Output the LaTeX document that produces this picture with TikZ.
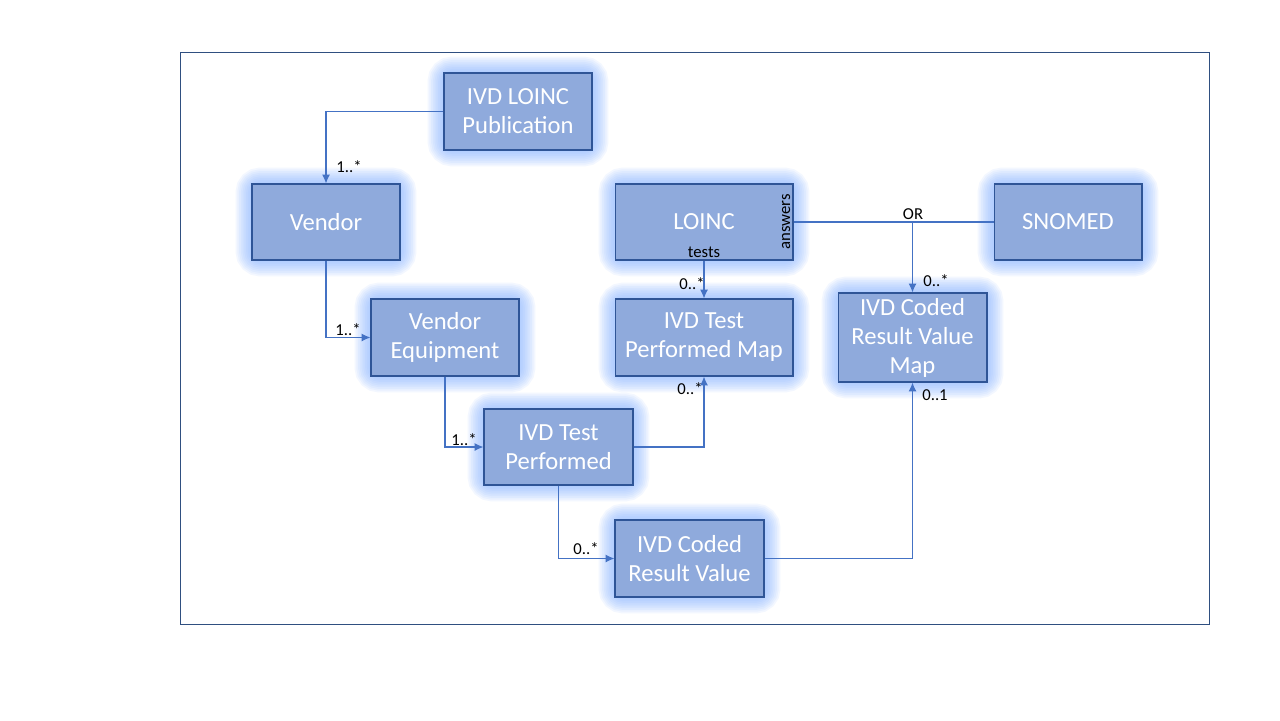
\documentclass[tikz,border=0pt]{standalone}
\usepackage{fontspec}
\setmainfont{Carlito}
\usetikzlibrary{arrows.meta,backgrounds}
\definecolor{boxfill}{HTML}{8FAADC}
\definecolor{boxedge}{HTML}{2F5597}
\definecolor{glowc}{HTML}{8AB6FF}
\definecolor{connc}{HTML}{4472C4}
\definecolor{framec}{HTML}{2F4F80}
\tikzset{
  box/.style={draw=boxedge, line width=0.6pt, fill=boxfill, text=white, align=center,
    font=\fontsize{14}{16.5}\selectfont, inner sep=0pt},
  conn/.style={draw=connc, line width=0.7pt, -{Latex[length=5pt,width=4.5pt]}},
  plain/.style={draw=connc, line width=0.7pt},
  mult/.style={font=\fontsize{9.5}{10}\selectfont, text=black, inner sep=0pt},
}
\begin{document}
\begin{tikzpicture}[x=0.02cm,y=-0.02cm]
\useasboundingbox (0,0) rectangle (1280,720);
\draw[framec, line width=0.5pt] (180,52) rectangle (1209,624);

\node[box, minimum width=2.96cm, minimum height=1.54cm] (pub) at (518,111.5) {IVD LOINC\\Publication};
\node[box, minimum width=2.96cm, minimum height=1.52cm] (vendor) at (326,222) {Vendor};
\node[box, minimum width=2.96cm, minimum height=1.54cm] (ve) at (445,337.5) {Vendor\\Equipment};
\node[box, minimum width=2.98cm, minimum height=1.52cm] (itp) at (558.5,447) {IVD Test\\Performed};
\node[box, minimum width=2.98cm, minimum height=1.54cm] (icrv) at (689.5,558.5) {IVD Coded\\Result Value};
\node[box, minimum width=3.56cm, minimum height=1.52cm] (loinc) at (704,222) {LOINC};
\node[box, minimum width=3.56cm, minimum height=1.54cm] (itpm) at (704,337.5) {IVD Test\\Performed Map};
\node[box, minimum width=2.98cm, minimum height=1.78cm] (icrvm) at (912.5,337.5) {IVD Coded\\Result Value\\Map};
\node[box, minimum width=2.96cm, minimum height=1.52cm] (snomed) at (1068,222) {SNOMED};

\begin{scope}[on background layer]
\fill[white] (0,0) rectangle (1280,720);
\foreach \n in {pub,vendor,ve,itp,icrv,loinc,itpm,icrvm,snomed}{
  \foreach \w in {18,16,...,2}{
    \draw[glowc, line width=\w pt, opacity=0.1, rounded corners=5pt] (\n.south west) rectangle (\n.north east);
  }
}
\end{scope}

\draw[conn] (pub.west) -| (vendor.north);
\draw[conn] (vendor.south) |- (ve.west);
\draw[conn] (ve.south) |- (itp.west);
\draw[conn] (itp.east) -| (itpm.south);
\draw[conn] (itp.south) |- (icrv.west);
\draw[conn] (icrv.east) -| (icrvm.south);
\draw[conn] (loinc.south) -- (itpm.north);
\draw[plain] (loinc.east) -- (snomed.west);
\draw[conn] (loinc.east -| icrvm.north) -- (icrvm.north);

\node[mult] (m1) at (349,167) {1..*};
\node[mult] (m2) at (348,330) {1..*};
\node[mult] (m3) at (464,440) {1..*};
\node[mult] (m4) at (690,389) {0..*};
\node[mult] (m5) at (586,549) {0..*};
\node[mult] (m6) at (935,395) {0..1};
\node[mult] (m7) at (692,284) {0..*};
\node[mult] (m8) at (936,281) {0..*};
\node[mult] (or) at (913,214) {OR};
\node[mult] (tests) at (704,252) {tests};
\node[mult, rotate=90] (answers) at (786,222) {answers};
\end{tikzpicture}
\end{document}
